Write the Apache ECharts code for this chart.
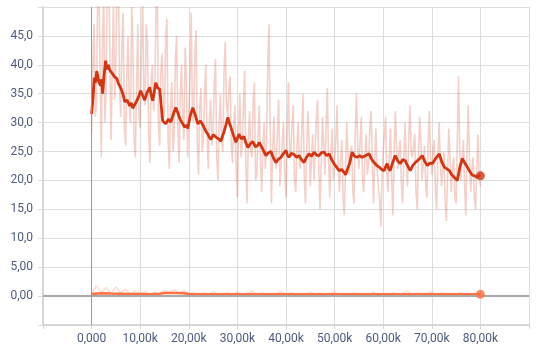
<!DOCTYPE html>
<html>
<head>
<meta charset="utf-8">
<script src="https://cdn.jsdelivr.net/npm/echarts@6/dist/echarts.min.js"></script>
<style>html,body{margin:0;padding:0;background:#fff}#c{width:539px;height:351px}</style>
</head>
<body>
<div id="c"></div>
<script>
// ---- data ----
const xTickValues = [0, 10000, 20000, 30000, 40000, 50000, 60000, 70000, 80000];
const xTickLabels = ['0,000', '10,00k', '20,00k', '30,00k', '40,00k', '50,00k', '60,00k', '70,00k', '80,00k'];
const yTickValues = [0, 5, 10, 15, 20, 25, 30, 35, 40, 45];
const yTickLabels = ['0,00', '5,00', '10,0', '15,0', '20,0', '25,0', '30,0', '35,0', '40,0', '45,0'];

// run A raw values, one every 250 steps from 0 to 80000
const rawStepA = 250;
const rawA = [
  28, 40, 47, 31, 33, 52, 56, 38, 24, 45, 52, 30, 36, 58, 60, 42, 27, 39, 51, 34, 41, 55, 58, 36, 31, 44, 49, 29, 26, 38, 45, 33, 30, 50, 43, 27, 24, 36, 47, 31,
  29, 41, 52, 35, 33, 47, 44, 28, 23, 37, 40, 32, 35, 50, 55, 30, 26, 39, 42, 34, 31, 45, 48, 27, 22, 33, 37, 25, 28, 41, 45, 29, 23, 35, 40, 31, 27, 43, 38, 24,
  24, 38, 49, 31, 30, 42, 46, 27, 21, 33, 36, 25, 27, 35, 40, 28, 22, 31, 34, 26, 29, 37, 41, 24, 20, 30, 35, 27, 25, 39, 44, 33, 31, 36, 38, 26, 23, 30, 33, 22,
  17, 29, 35, 24, 26, 33, 39, 22, 16, 27, 32, 25, 24, 34, 37, 20, 21, 28, 33, 23, 18, 26, 30, 22, 26, 40, 47, 28, 16, 25, 31, 24, 22, 29, 34, 19, 19, 27, 30, 21,
  17, 28, 37, 25, 24, 30, 33, 20, 18, 26, 30, 23, 22, 29, 35, 21, 16, 25, 32, 27, 19, 24, 28, 20, 25, 31, 34, 22, 15, 23, 31, 26, 21, 30, 36, 24, 17, 25, 29, 20,
  20, 27, 33, 22, 18, 24, 27, 17, 14, 22, 30, 25, 21, 25, 26, 18, 16, 28, 35, 26, 22, 27, 31, 20, 18, 24, 28, 21, 23, 29, 32, 24, 16, 23, 29, 22, 19, 17, 12, 20,
  25, 28, 31, 21, 18, 24, 29, 20, 14, 25, 32, 26, 22, 25, 27, 19, 16, 24, 30, 23, 19, 27, 33, 25, 24, 26, 28, 18, 15, 24, 31, 27, 20, 23, 26, 19, 17, 26, 32, 24,
  21, 25, 27, 18, 15, 24, 30, 23, 19, 22, 25, 16, 13, 21, 29, 24, 18, 22, 24, 17, 16, 27, 38, 25, 20, 24, 27, 19, 14, 25, 33, 24, 18, 22, 24, 17, 15, 22, 28, 21,
  19
];

// run A smoothed
const smoothStepsA = [
  0, 300, 560, 750, 900, 1050, 1240, 1500, 1860, 2050, 2270, 2600, 2890, 3200, 3450, 3710, 4200, 4500, 4740, 5200,
  5500, 5770, 6100, 6390, 6600, 6800, 7300, 7840, 8150, 8450, 9000, 9480, 9800, 10100, 10500, 10930, 11400, 11960, 12250, 12580,
  12900, 13200, 13600, 14020, 14300, 14640, 14950, 15260, 15800, 16290, 16800, 17320, 17700, 18140, 18600, 19180, 19500, 19790,
  20300, 20820, 21300, 21860, 22400, 22890, 23400, 23920, 24200, 24540, 25050, 25570, 26100, 26600, 26900, 27220, 27600, 28040, 28350, 28660,
  29200, 29690, 30000, 30310, 30800, 31340, 31750, 32160, 32700, 33200, 33700, 34230, 34500, 34850, 35350, 35880, 36400, 36910, 37400, 37940,
  38450, 38970, 39500, 40000, 40300, 40620, 41100, 41650, 42200, 42680, 43200, 43710, 44200, 44740, 45250, 45770, 46300, 46800, 47300, 47840,
  48350, 48870, 49400, 49900, 50400, 50930, 51450, 51960, 52250, 52580, 53100, 53610, 54100, 54640, 55150, 55670, 56400, 57110, 57600, 58140,
  58650, 59180, 59700, 60210, 60500, 60820, 61100, 61440, 62000, 62470, 63000, 63510, 64000, 64540, 65050, 65570, 66100, 66600, 67300, 68040,
  68550, 69070, 69600, 70100, 70800, 71550, 72050, 72580, 73100, 73610, 74100, 74640, 74950, 75260, 75750, 76290, 76800, 77320, 77850, 78350,
  78850, 79380, 79700, 80000
];
const smoothValsA = [
  31.5, 34.5, 37.8, 36.9, 37.6, 38.9, 38.2, 37.0, 36.4, 37.5, 35.0, 38.5, 40.7, 39.2, 40.0, 39.1, 38.6, 38.9, 37.9, 37.6,
  36.8, 37.1, 35.8, 35.5, 34.5, 33.6, 33.9, 32.9, 33.4, 32.5, 33.3, 34.1, 34.8, 35.5, 34.7, 33.9, 35.2, 36.1, 34.8, 33.8,
  35.4, 36.9, 36.0, 35.8, 33.2, 30.3, 30.6, 29.8, 30.6, 30.1, 31.4, 32.6, 31.8, 30.7, 30.0, 29.2, 29.6, 29.0,
  31.2, 32.6, 31.4, 29.8, 30.3, 29.6, 28.7, 28.0, 27.5, 27.1, 27.9, 27.5, 27.2, 26.8, 27.6, 28.3, 29.5, 30.9, 29.9, 29.2,
  27.8, 26.6, 27.3, 28.0, 27.2, 27.6, 26.5, 25.7, 26.4, 26.7, 25.8, 26.1, 26.6, 26.9, 25.2, 24.3, 24.8, 25.0, 23.9, 23.1,
  23.7, 24.0, 24.7, 25.2, 24.4, 24.0, 24.7, 24.5, 24.0, 24.3, 23.6, 23.1, 24.0, 24.6, 24.2, 24.9, 24.4, 24.3, 24.8, 24.9,
  24.3, 24.6, 23.6, 22.9, 22.3, 21.7, 21.9, 21.4, 21.0, 20.9, 23.0, 24.9, 24.2, 24.0, 24.3, 24.0, 24.3, 24.6, 23.7, 23.1,
  22.6, 22.3, 21.9, 21.7, 22.4, 22.9, 22.1, 21.7, 23.2, 24.3, 23.4, 22.9, 23.6, 23.4, 22.5, 21.7, 22.6, 23.1, 23.6, 24.3,
  23.3, 22.6, 23.0, 22.9, 23.8, 24.6, 23.2, 22.3, 22.0, 21.7, 21.0, 20.5, 20.2, 20.0, 22.2, 23.8, 23.0, 22.3, 21.5, 20.9,
  20.8, 20.5, 20.9, 20.8
];

// run B raw values, one every 1000 steps from 0 to 80000
const rawStepB = 1000;
const rawB = [
  0.3, 1.8, 0.6, 1.5, 0.4, 1.6, 0.5, 1.2, 0.3, 0.9, 0.5, 0.8, 0.3, 0.7, 0.4, 1.0, 0.6, 1.1, 0.5, 1.0,
  0.4, 0.7, 0.2, 0.6, 0.3, 0.8, 0.2, 0.5, 0.6, 0.3, 0.7, 0.2, 0.5, 0.9, 0.3, 0.6, 0.2, 0.5, 0.4, 0.8,
  0.2, 0.6, 0.3, 0.5, 0.2, 0.7, 0.3, 0.6, 0.2, 0.5, 0.8, 0.3, 0.5, 0.2, 0.6, 0.3, 0.5, 0.2, 0.7, 0.3,
  0.4, 0.2, 0.6, 0.3, 0.5, 0.9, 0.2, 0.6, 0.3, 0.5, 0.7, 0.2, 0.6, 0.3, 0.5, 0.2, 0.6, 0.4, 0.2, 0.5,
  0.3
];
const smoothStepsB = [0, 2000, 4000, 6000, 8000, 10000, 12000, 14000, 15000, 17000, 19000, 20000, 24000, 30000, 40000, 50000, 60000, 70000, 80000];
const smoothValsB = [0.35, 0.5, 0.45, 0.42, 0.38, 0.36, 0.34, 0.4, 0.55, 0.55, 0.5, 0.35, 0.32, 0.33, 0.3, 0.3, 0.32, 0.3, 0.3];

// ---- build ----
const pairsRaw = (vals, step) => vals.map((v, i) => [i * step, v]);
const pairs = (xs, ys) => xs.map((x, i) => [x, ys[i]]);

const chart = echarts.init(document.getElementById('c'), null, { renderer: 'canvas' });
const gridColor = '#dddddd';
const labelColor = '#4e5b7d';

chart.setOption({
  animation: false,
  grid: { left: 43, right: 10, top: 7, bottom: 26 },
  xAxis: {
    type: 'value', min: -10000, max: 90000, interval: 10000,
    axisLine: { show: true, onZero: false, lineStyle: { color: '#d6d6d6', width: 2 } },
    axisTick: { show: true, length: 4, lineStyle: { color: '#d6d6d6' } },
    splitLine: { show: true, lineStyle: { color: gridColor, width: 1 } },
    axisLabel: {
      color: labelColor, fontSize: 12, fontFamily: 'Roboto', margin: 8,
      formatter: v => { const i = xTickValues.indexOf(v); return i >= 0 ? xTickLabels[i] : ''; }
    }
  },
  yAxis: {
    type: 'value', min: -5, max: 50, interval: 5,
    axisLine: { show: true, onZero: false, lineStyle: { color: '#d6d6d6', width: 2 } },
    axisTick: { show: true, length: 5, lineStyle: { color: gridColor } },
    splitLine: { show: true, lineStyle: { color: gridColor, width: 1 } },
    axisLabel: {
      color: labelColor, fontSize: 12, fontFamily: 'Roboto', margin: 10,
      formatter: v => { const i = yTickValues.indexOf(v); return i >= 0 ? yTickLabels[i] : ''; }
    }
  },
  series: [
    {
      type: 'line', data: [], silent: true,
      markLine: {
        silent: true, symbol: 'none', label: { show: false },
        data: [
          { yAxis: 0, lineStyle: { color: '#a8a8a8', width: 2, type: 'solid' } },
          { xAxis: 0, lineStyle: { color: '#9a9a9a', width: 1, type: 'solid' } }
        ]
      }
    },
    {
      type: 'line', data: pairsRaw(rawA, rawStepA), showSymbol: false, symbol: 'none',
      lineStyle: { color: 'rgba(210,60,30,0.24)', width: 1.6 }, z: 2
    },
    {
      type: 'line', data: pairsRaw(rawB, rawStepB), showSymbol: false, symbol: 'none',
      lineStyle: { color: 'rgba(255,112,67,0.25)', width: 1.5 }, z: 2
    },
    {
      type: 'line', data: pairs(smoothStepsA, smoothValsA), showSymbol: false, symbol: 'none',
      lineStyle: { color: '#cf3614', width: 2.8 }, z: 4
    },
    {
      type: 'line', data: pairs(smoothStepsB, smoothValsB), showSymbol: false, symbol: 'none',
      lineStyle: { color: '#ff7043', width: 2.5 }, z: 4
    },
    {
      type: 'scatter', symbol: 'circle', symbolSize: 9, z: 5,
      data: [[smoothStepsA[smoothStepsA.length - 1], smoothValsA[smoothValsA.length - 1]]],
      itemStyle: { color: '#cf3614' }
    },
    {
      type: 'scatter', symbol: 'circle', symbolSize: 9, z: 5,
      data: [[smoothStepsB[smoothStepsB.length - 1], smoothValsB[smoothValsB.length - 1]]],
      itemStyle: { color: '#ff7043' }
    }
  ]
});
</script>
</body>
</html>
